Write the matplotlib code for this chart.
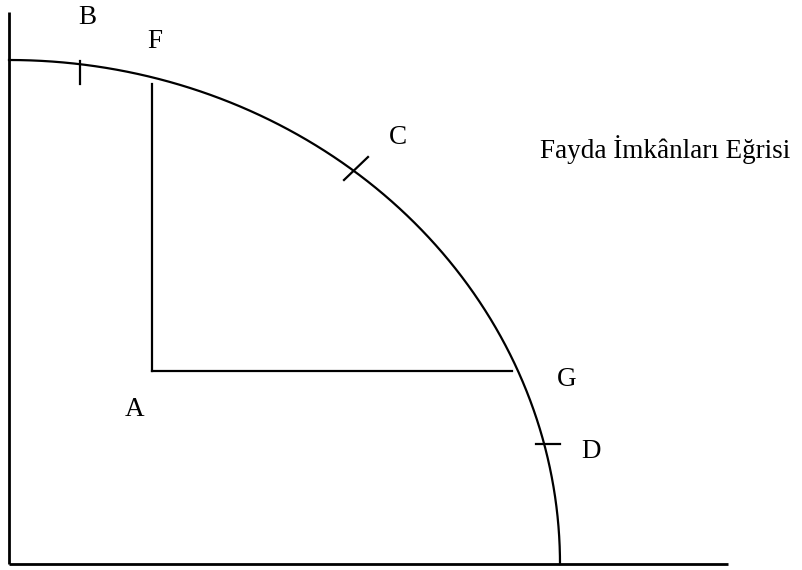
import numpy as np
import matplotlib
matplotlib.use("Agg")
import matplotlib.pyplot as plt

# Diagram geometry (units ~ pixels, origin at axes corner)
curve_a = 551.0   # horizontal semi-axis of utility possibilities frontier
curve_b = 504.0   # vertical semi-axis
axis_x_end = 719
axis_y_end = 552
point_A = (143, 193)
F_top = 480
G_end = 503
B_tick = ((71, 71), (480, 503))
C_tick = ((335, 359), (384, 407))
D_tick = ((527, 551), (120, 120))

labels = ["B", "F", "C", "G", "A", "D"]
label_x = [78, 146, 389, 558, 126, 582]
label_y = [547, 522, 427, 184, 154, 112]
curve_label = "Fayda İmkânları Eğrisi"
curve_label_pos = (531, 414)

fig = plt.figure(figsize=(8.03, 5.70), dpi=100)
ax = fig.add_axes([0, 0, 1, 1])
ax.set_xlim(-9, 794)
ax.set_ylim(-6, 564)
ax.axis("off")

lw = 1.6
# axes
ax.plot([0, 0], [0, axis_y_end], color="black", lw=2.0, solid_capstyle="butt")
ax.plot([0, axis_x_end], [0, 0], color="black", lw=2.0, solid_capstyle="butt")

# frontier
t = np.linspace(0, np.pi / 2, 400)
ax.plot(curve_a * np.sin(t), curve_b * np.cos(t), color="black", lw=lw)

# F and G lines from A
ax.plot([point_A[0], point_A[0]], [point_A[1], F_top], color="black", lw=lw)
ax.plot([point_A[0], G_end], [point_A[1], point_A[1]], color="black", lw=lw)

# ticks
for tx, ty in (B_tick, C_tick, D_tick):
    ax.plot(tx, ty, color="black", lw=lw)

font = dict(family=["Liberation Serif", "DejaVu Serif"], fontsize=19.5, color="black")
for s, x, y in zip(labels, label_x, label_y):
    ax.text(x, y, s, ha="center", va="center", **font)
ax.text(curve_label_pos[0], curve_label_pos[1], curve_label, ha="left", va="center", **font)

fig.savefig("out.png", dpi=100)
